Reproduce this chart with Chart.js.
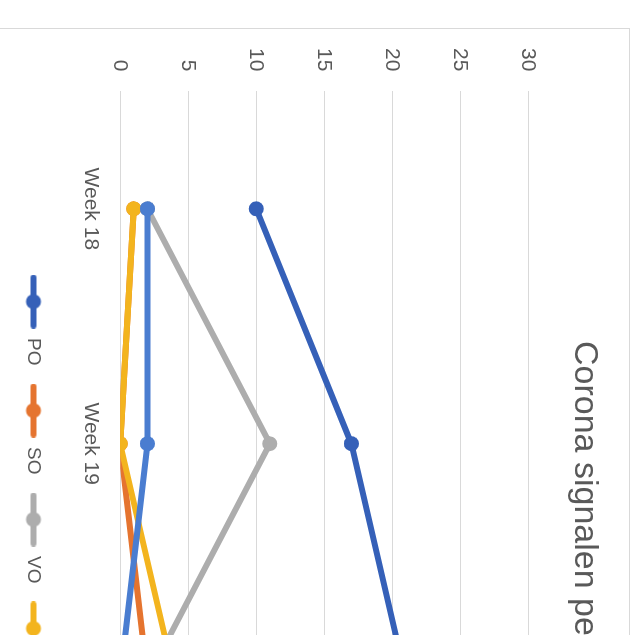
<!DOCTYPE html>
<html>
<head>
<meta charset="utf-8">
<script src="https://cdn.jsdelivr.net/npm/chart.js@4"></script>
<style>
  html, body { margin: 0; padding: 0; background: #ffffff; overflow: hidden; }
  body { width: 638px; height: 635px; position: relative; }
  #wrap { position: absolute; left: 630px; top: 28px; width: 1035px; height: 633px;
          transform-origin: 0 0; transform: rotate(90deg); background: #ffffff; }
</style>
</head>
<body>
<div id="wrap"><canvas id="c" width="1035" height="633"></canvas></div>
<script>
const title = 'Corona signalen per week';
const categories = ['Week 18', 'Week 19', 'Week 20', 'Week 21'];
const seriesNames = ['PO', 'SO', 'VO', 'KO', 'HO'];
const valuesPO = [10, 17, 21, null];
const valuesSO = [1, 0, 2, null];
const valuesVO = [2, 11, 2, null];
const valuesKO = [1, 0, 4, null];
const valuesHO = [2, 2, 0, null];
const yTicks = [0, 5, 10, 15, 20, 25, 30];

const colors = ['#3560b8', '#e5742f', '#adadad', '#f3b41e', '#4a7dd0'];
const seriesValues = [valuesPO, valuesSO, valuesVO, valuesKO, valuesHO];

function makeMarker(color) {
  const c = document.createElement('canvas');
  c.width = 54; c.height = 18;
  const g = c.getContext('2d');
  g.strokeStyle = color; g.lineWidth = 6; g.lineCap = 'round';
  g.beginPath(); g.moveTo(3, 9); g.lineTo(51, 9); g.stroke();
  g.fillStyle = color;
  g.beginPath(); g.arc(27, 9, 7.5, 0, Math.PI * 2); g.fill();
  return c;
}
const markers = colors.map(makeMarker);

const datasets = seriesNames.map((name, i) => ({
  label: name,
  data: seriesValues[i],
  borderColor: colors[i],
  backgroundColor: colors[i],
  pointBackgroundColor: colors[i],
  pointBorderColor: colors[i],
  pointRadius: 7.5,
  pointBorderWidth: 0,
  borderWidth: 6,
  tension: 0,
  spanGaps: false,
  order: seriesNames.length - i
}));

const borderPlugin = {
  id: 'chartBorder',
  afterDraw(chart) {
    const ctx = chart.ctx;
    ctx.save();
    ctx.strokeStyle = '#d9d9d9';
    ctx.lineWidth = 1;
    ctx.strokeRect(0.5, 0.5, chart.width - 1, chart.height - 1);
    ctx.restore();
  }
};

new Chart(document.getElementById('c'), {
  type: 'line',
  data: { labels: categories, datasets },
  plugins: [borderPlugin],
  options: {
    responsive: false,
    animation: false,
    devicePixelRatio: 1,
    layout: { padding: { left: 0, right: 14, top: 0, bottom: 17 } },
    font: { family: '"Liberation Sans", Arial, sans-serif' },
    plugins: {
      title: {
        display: true,
        text: title,
        color: '#595959',
        font: { family: '"Liberation Sans", Arial, sans-serif', size: 34, weight: 'normal' },
        padding: { top: 25, bottom: 36 }
      },
      legend: {
        position: 'bottom',
        labels: {
          color: '#595959',
          font: { family: '"Liberation Sans", Arial, sans-serif', size: 19 },
          padding: 18,
          usePointStyle: true,
          pointStyleWidth: 54,
          sort: (a, b) => a.datasetIndex - b.datasetIndex,
          generateLabels(chart) {
            const items = Chart.defaults.plugins.legend.labels.generateLabels(chart);
            items.forEach(it => { it.pointStyle = markers[it.datasetIndex]; });
            return items;
          }
        }
      },
      tooltip: { enabled: false }
    },
    scales: {
      x: {
        type: 'category',
        offset: true,
        grid: { display: false, drawTicks: false },
        border: { display: true, color: '#d9d9d9', width: 1 },
        ticks: {
          color: '#595959', padding: 17, maxRotation: 0,
          font: { family: '"Liberation Sans", Arial, sans-serif', size: 21 }
        }
      },
      y: {
        min: 0, max: 30,
        afterBuildTicks(scale) { scale.ticks = yTicks.map(v => ({ value: v })); },
        grid: { color: '#d9d9d9', lineWidth: 1, drawTicks: false },
        border: { display: false },
        ticks: {
          color: '#595959', padding: 20,
          font: { family: '"Liberation Sans", Arial, sans-serif', size: 21 }
        }
      },
      yRightMargin: {
        type: 'linear',
        position: 'right',
        display: true,
        min: 0, max: 30,
        grid: { display: false, drawTicks: false },
        border: { display: false },
        ticks: { display: false },
        afterFit(scale) { scale.width = 18; }
      }
    }
  }
});
</script>
</body>
</html>
